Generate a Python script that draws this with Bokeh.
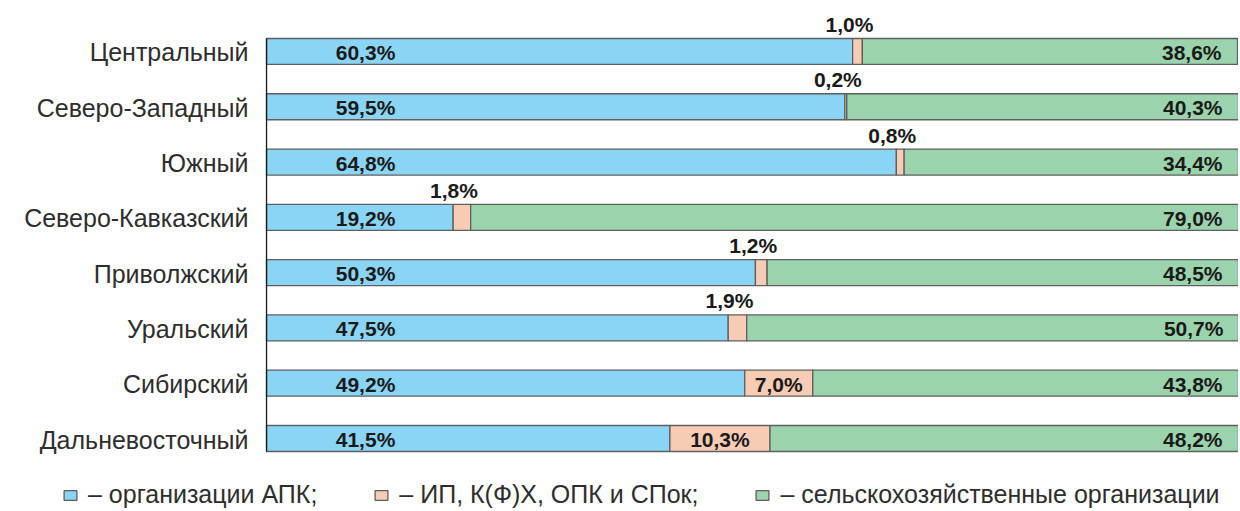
from bokeh.plotting import figure
from bokeh.models import ColumnDataSource, Range1d, Legend, LegendItem
from bokeh.core.properties import value
from bokeh.embed import file_html
from bokeh.resources import INLINE

regions = ["Центральный", "Северо-Западный", "Южный", "Северо-Кавказский",
           "Приволжский", "Уральский", "Сибирский", "Дальневосточный"]
apk = [60.3, 59.5, 64.8, 19.2, 50.3, 47.5, 49.2, 41.5]
ip = [1.0, 0.2, 0.8, 1.8, 1.2, 1.9, 7.0, 10.3]
sh = [38.6, 40.3, 34.4, 79.0, 48.5, 50.7, 43.8, 48.2]
series_names = ["– организации АПК;", "– ИП, К(Ф)Х, ОПК и СПок;", "– сельскохозяйственные организации"]
colors = ["#8AD4F5", "#F8CBB4", "#9BD3AD"]
edge = "#5f5f5f"
FONT = "Liberation Sans"

def fmt(v):
    return ("%.1f%%" % v).replace(".", ",")

n = len(regions)
ypos = [n - 1 - i for i in range(n)]          # first region at the top
ip_end = [a + b for a, b in zip(apk, ip)]
sh_end = [a + b + c for a, b, c in zip(apk, ip, sh)]
bh = 0.47

src = ColumnDataSource(dict(
    y=ypos, region=regions, apk0=[0] * n, apk=apk, ip1=ip_end, sh1=sh_end,
))

p = figure(width=1238, height=509, output_backend="svg", toolbar_location=None,
           x_range=Range1d(-27.37, 100.0), y_range=Range1d(-1.284, n - 1 + 0.922),
           min_border=0)

r1 = p.hbar(y="y", left="apk0", right="apk", height=bh, source=src,
            fill_color=colors[0], line_color=edge, line_width=1.3)
r2 = p.hbar(y="y", left="apk", right="ip1", height=bh, source=src,
            fill_color=colors[1], line_color=edge, line_width=1.3)
r3 = p.hbar(y="y", left="ip1", right="sh1", height=bh, source=src,
            fill_color=colors[2], line_color=edge, line_width=1.3)

# vertical category axis line spanning the bars
p.segment(x0=[0], x1=[0], y0=[min(ypos) - bh / 2], y1=[max(ypos) + bh / 2],
          line_color="#1a1a1a", line_width=1.3)

# category labels
p.text(x="apk0", y="y", text="region", source=src, text_align="right", text_baseline="middle",
       x_offset=-18, y_offset=1, text_font=value(FONT), text_font_size="25px",
       text_color="#2e2e2e")

small = [i for i, v in enumerate(ip) if v < 5]
large = [i for i, v in enumerate(ip) if v >= 5]
blue_lab = ColumnDataSource(dict(x=[0] * n, y=ypos, t=[fmt(v) for v in apk]))
green_lab = ColumnDataSource(dict(x=sh_end, y=ypos, t=[fmt(v) for v in sh]))
pink_s = ColumnDataSource(dict(x=[(apk[i] + ip_end[i]) / 2 for i in small],
                               y=[ypos[i] for i in small], t=[fmt(ip[i]) for i in small]))
pink_l = ColumnDataSource(dict(x=[(apk[i] + ip_end[i]) / 2 for i in large],
                               y=[ypos[i] for i in large], t=[fmt(ip[i]) for i in large]))

common = dict(text_font=value(FONT), text_font_style="bold", text_font_size="21px",
              text_color="#1a1a1a")
p.text(x="x", y="y", text="t", source=blue_lab, text_align="center", text_baseline="middle",
       x_offset=99, y_offset=1, **common)
p.text(x="x", y="y", text="t", source=green_lab, text_align="right", text_baseline="middle",
       x_offset=-16, y_offset=1, **common)
p.text(x="x", y="y", text="t", source=pink_s, text_align="center", text_baseline="alphabetic",
       x_offset=-8, y_offset=-27, **common)
p.text(x="x", y="y", text="t", source=pink_l, text_align="center", text_baseline="middle",
       y_offset=1, **common)

p.axis.visible = False
p.grid.visible = False
p.outline_line_color = None

legend = Legend(items=[LegendItem(label=nm, renderers=[r]) for nm, r in zip(series_names, [r1, r2, r3])],
                orientation="horizontal", location=(62, 0),
                label_text_font=FONT, label_text_font_size="25px",
                label_text_color="#2e2e2e", glyph_width=16, glyph_height=12,
                label_standoff=10, spacing=56, padding=0, margin=0,
                border_line_color=None, background_fill_alpha=0)
p.add_layout(legend, "center")

open("out.html", "w").write(file_html(p, INLINE))
